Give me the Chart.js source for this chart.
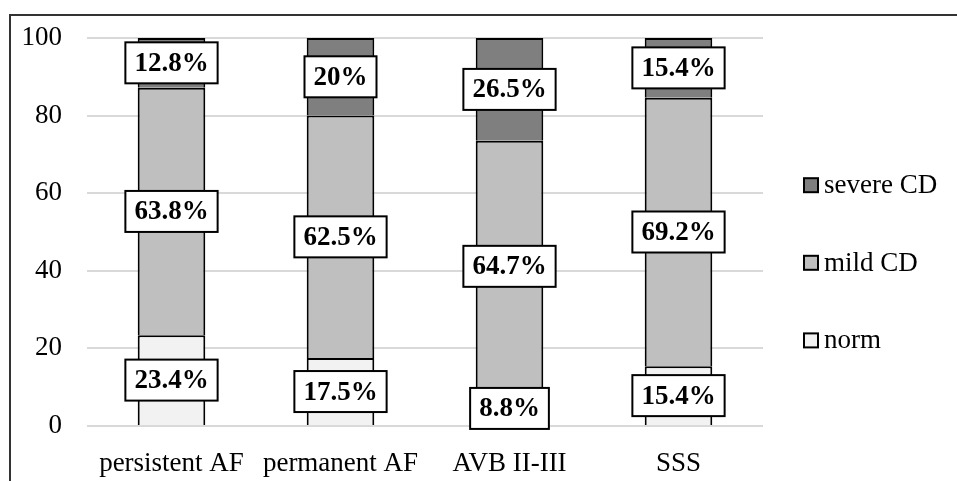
<!DOCTYPE html>
<html>
<head>
<meta charset="utf-8">
<script src="https://cdn.jsdelivr.net/npm/chart.js@4.4.1/dist/chart.umd.min.js"></script>
<style>
  html, body { margin: 0; padding: 0; background: #fff; }
  #wrap { position: relative; width: 957px; height: 481px; overflow: hidden; }
  #frame { position: absolute; left: 9px; top: 14px; right: -4px; bottom: -4px;
           border-top: 2px solid #333; border-left: 2px solid #333; pointer-events: none; }
  canvas { position: absolute; left: 0; top: 0; }
</style>
</head>
<body>
<div id="wrap">
  <canvas id="c" width="957" height="481"></canvas>
  <div id="frame"></div>
</div>
<script>
// Groups along the x axis
const categories = ['persistent AF', 'permanent AF', 'AVB II-III', 'SSS'];

// Share of patients (%) in each group
const normValues   = [23.4, 17.5, 8.8, 15.4];
const mildValues   = [63.8, 62.5, 64.7, 69.2];
const severeValues = [12.8, 20, 26.5, 15.4];

// Y axis ticks
const yTicks = [0, 20, 40, 60, 80, 100];

const SERIF = '"Liberation Serif", "Times New Roman", serif';
const FONT_SIZE = 27;

// Boxed percentage labels centred on each segment
const boxLabels = {
  id: 'boxLabels',
  afterDatasetsDraw(chart) {
    const ctx = chart.ctx;
    ctx.save();
    ctx.font = 'bold ' + FONT_SIZE + 'px ' + SERIF;
    ctx.textAlign = 'center';
    ctx.textBaseline = 'middle';
    chart.data.datasets.forEach((ds, di) => {
      const meta = chart.getDatasetMeta(di);
      meta.data.forEach((bar, i) => {
        const v = ds.data[i];
        const txt = v + '%';
        const cx = bar.x;
        const cy = (bar.y + bar.base) / 2;
        const w = ctx.measureText(txt).width + 18;
        const h = 41;
        ctx.fillStyle = '#fff';
        ctx.fillRect(cx - w / 2, cy - h / 2, w, h);
        ctx.lineWidth = 2;
        ctx.strokeStyle = '#000';
        ctx.strokeRect(cx - w / 2, cy - h / 2, w, h);
        ctx.fillStyle = '#000';
        ctx.fillText(txt, cx, cy + 1);
      });
    });
    ctx.restore();
  }
};

// Legend on the right, top item = top stack segment
const sideLegend = {
  id: 'sideLegend',
  afterDraw(chart) {
    const ctx = chart.ctx;
    const ys = chart.scales.y;
    const rows = chart.data.datasets.slice().reverse();
    const rowVal = [60, 40, 20];
    ctx.save();
    ctx.font = FONT_SIZE + 'px ' + SERIF;
    ctx.textBaseline = 'middle';
    ctx.textAlign = 'left';
    rows.forEach((ds, k) => {
      const y = ys.getPixelForValue(rowVal[k]) - 8;
      const x = 804;
      ctx.fillStyle = ds.backgroundColor;
      ctx.fillRect(x, y - 7, 14, 14);
      ctx.lineWidth = 2;
      ctx.strokeStyle = '#000';
      ctx.strokeRect(x, y - 7, 14, 14);
      ctx.fillStyle = '#000';
      ctx.fillText(ds.label, 824, y + 1);
    });
    ctx.restore();
  }
};

const barStyle = { borderColor: '#000', borderWidth: 2, barPercentage: 0.4, categoryPercentage: 1 };

new Chart(document.getElementById('c'), {
  type: 'bar',
  data: {
    labels: categories,
    datasets: [
      Object.assign({ label: 'norm', data: normValues, backgroundColor: '#f2f2f2' }, barStyle),
      Object.assign({ label: 'mild CD', data: mildValues, backgroundColor: '#bfbfbf' }, barStyle),
      Object.assign({ label: 'severe CD', data: severeValues, backgroundColor: '#7f7f7f' }, barStyle)
    ]
  },
  options: {
    responsive: false,
    animation: false,
    layout: { padding: { top: 38, right: 194, bottom: 0, left: 0 } },
    plugins: { legend: { display: false }, tooltip: { enabled: false } },
    scales: {
      x: {
        stacked: true,
        grid: { display: false, drawTicks: false },
        border: { display: false },
        ticks: { color: '#000', font: { family: SERIF, size: FONT_SIZE }, padding: 22, maxRotation: 0, autoSkip: false },
        afterFit(scale) { scale.height = 55; }
      },
      y: {
        stacked: true,
        min: 0,
        max: 100,
        afterBuildTicks(scale) { scale.ticks = yTicks.map(v => ({ value: v })); },
        grid: { color: '#d9d9d9', lineWidth: 2, drawTicks: false },
        border: { display: false },
        ticks: { color: '#000', font: { family: SERIF, size: FONT_SIZE }, padding: 25 },
        afterFit(scale) {
          scale.width = 87;
          scale.paddingTop = 0;
          scale.paddingBottom = 0;
        }
      }
    }
  },
  plugins: [boxLabels, sideLegend]
});
</script>
</body>
</html>
